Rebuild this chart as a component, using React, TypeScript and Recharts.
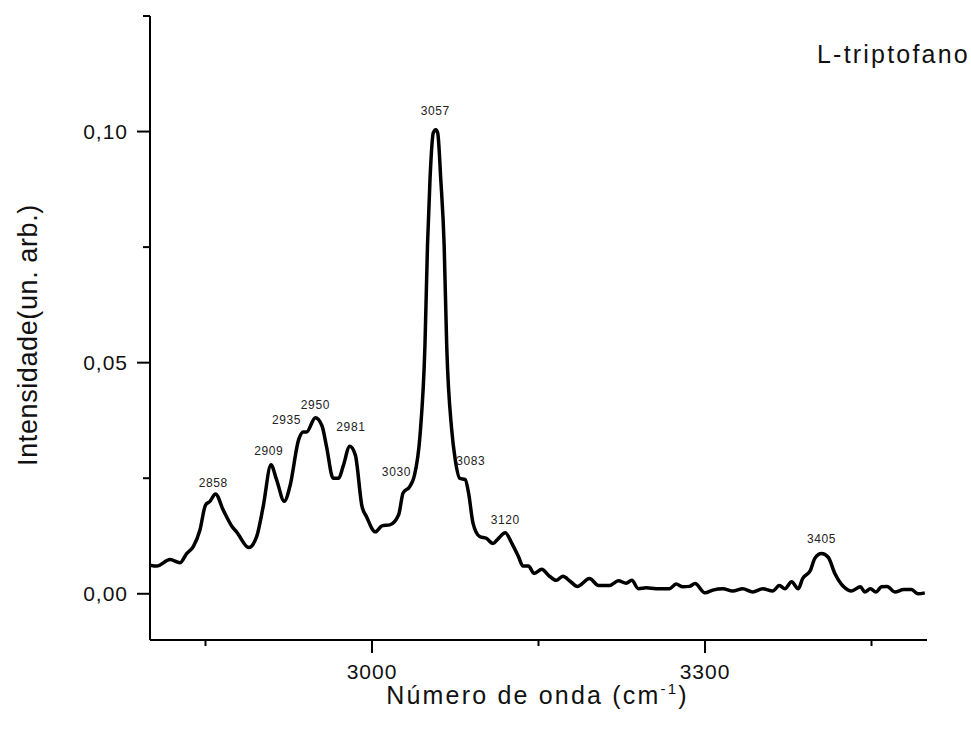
import { LineChart, Line, XAxis, YAxis, ReferenceDot, Label } from "recharts";

// espectro Raman do L-triptofano
const wavenumbers = [
  2800, 2806, 2818, 2827, 2833, 2839, 2845, 2850, 2854, 2859, 2866, 2874, 2878, 2889, 2896, 2902,
  2909, 2914, 2921, 2926, 2934, 2938, 2941, 2949, 2955, 2959, 2965, 2970, 2974, 2980, 2985, 2991,
  2995, 3003, 3009, 3016, 3024, 3028, 3034, 3038, 3043.2, 3047.7, 3050, 3052.3, 3055.2, 3057.4,
  3059.2, 3061.9, 3065, 3067.3, 3071.8, 3075, 3079, 3084, 3087, 3091, 3097, 3103, 3109, 3114, 3120,
  3126, 3132, 3136, 3141, 3146, 3153, 3159, 3166, 3172, 3179, 3185, 3196, 3204, 3214, 3222, 3229,
  3234, 3240, 3247, 3256, 3268, 3274, 3280, 3286, 3291, 3300, 3307, 3316, 3325, 3334, 3343, 3352,
  3361, 3367, 3372, 3378, 3384, 3388, 3395, 3399, 3405, 3411, 3417, 3425, 3432, 3440, 3444, 3449,
  3454, 3459, 3464, 3471, 3479, 3486, 3492, 3498,
];
const intensities = [
  0.0062, 0.006, 0.0074, 0.0067, 0.0087, 0.0102, 0.0138, 0.0192, 0.02, 0.0216, 0.0181, 0.0145, 0.0134, 0.01, 0.0123, 0.0189,
  0.0279, 0.0247, 0.02, 0.0232, 0.0334, 0.035, 0.035, 0.0381, 0.0363, 0.0319, 0.025, 0.025, 0.0276, 0.0319, 0.03, 0.0189,
  0.0167, 0.0134, 0.0147, 0.0149, 0.0171, 0.0218, 0.0232, 0.0254, 0.0341, 0.0537, 0.0754, 0.0899, 0.0997, 0.1004,
  0.0997, 0.0899, 0.0754, 0.0537, 0.0355, 0.029, 0.025, 0.0247, 0.0218, 0.0153, 0.0124, 0.012, 0.0109, 0.012, 0.0132,
  0.0109, 0.008, 0.006, 0.006, 0.0044, 0.0053, 0.004, 0.0029, 0.0038, 0.0026, 0.0016, 0.0033, 0.0018, 0.0018, 0.0028, 0.0023,
  0.0029, 0.0011, 0.0013, 0.0011, 0.0011, 0.0021, 0.0015, 0.0016, 0.0022, 0.0002, 0.0008, 0.0011, 0.0006, 0.0011, 0.0004, 0.0011,
  0.0006, 0.0018, 0.0011, 0.0026, 0.0011, 0.0033, 0.0051, 0.0077, 0.0087, 0.0079, 0.0044, 0.0015, 0.0006, 0.0015, 0.0004, 0.0011,
  0.0004, 0.0015, 0.0016, 0.0004, 0.0009, 0.0009, 0, 0.0002,
];

const xTicks = [2850, 3000, 3150, 3300, 3450];
const xMajor = [3000, 3300];
const yTicks = [0, 0.025, 0.05, 0.075, 0.1, 0.125];
const yMajor = [0, 0.05, 0.1];

// rótulos dos picos e onde o texto fica (em unidades dos eixos)
const peakLabels = ["2858", "2909", "2935", "2950", "2981", "3030", "3057", "3083", "3120", "3405"];
const peakLabelX = [2857, 2907, 2923, 2949, 2981, 3022, 3057, 3089, 3120, 3405];
const peakLabelY = [0.024, 0.031, 0.0376, 0.0408, 0.0361, 0.0265, 0.1046, 0.0287, 0.0161, 0.0118];

const data = wavenumbers.map((w, i) => ({ w, v: intensities[i] }));

const FONT = "'Liberation Sans', Arial, sans-serif";

function XTick({ x, y, payload }: any) {
  const major = xMajor.includes(payload.value);
  return (
    <g>
      <line x1={x} x2={x} y1={y} y2={y + (major ? 13 : 6)} stroke="#000" strokeWidth={2} />
      {major && (
        <text x={x} y={y + 39} textAnchor="middle" fontSize={21} letterSpacing={1} fill="#111" fontFamily={FONT}>
          {payload.value}
        </text>
      )}
    </g>
  );
}

function YTick({ x, y, payload }: any) {
  const major = yMajor.includes(payload.value);
  return (
    <g>
      <line x1={x - (major ? 13 : 7)} x2={x} y1={y} y2={y} stroke="#000" strokeWidth={2} />
      {major && (
        <text x={x - 22} y={y + 7} textAnchor="end" fontSize={21} letterSpacing={1} fill="#111" fontFamily={FONT}>
          {payload.value.toFixed(2).replace(".", ",")}
        </text>
      )}
    </g>
  );
}

export default function App() {
  return (
    <div style={{ position: "absolute", left: 0, top: 0, width: 971, height: 740, background: "#fff" }}>
      <LineChart width={971} height={740} data={data} margin={{ top: 16, right: 44, bottom: 0, left: 0 }}>
        <XAxis
          dataKey="w"
          type="number"
          domain={[2800, 3500]}
          ticks={xTicks}
          tick={<XTick />}
          tickSize={0}
          tickMargin={0}
          tickLine={false}
          axisLine={{ stroke: "#000", strokeWidth: 2 }}
          height={100}
          allowDataOverflow
        >
          <Label
            content={({ viewBox }: any) => (
              <text
                x={viewBox.x + viewBox.width / 2 - 1}
                y={viewBox.y + 64}
                textAnchor="middle"
                fontSize={25}
                letterSpacing={2.2}
                fill="#111"
                fontFamily={FONT}
              >
                Número de onda (cm
                <tspan dy={-10} fontSize={15}>-1</tspan>
                <tspan dy={10}>)</tspan>
              </text>
            )}
          />
        </XAxis>
        <YAxis
          type="number"
          domain={[-0.01, 0.125]}
          ticks={yTicks}
          tick={<YTick />}
          tickSize={0}
          tickMargin={0}
          tickLine={false}
          axisLine={{ stroke: "#000", strokeWidth: 2 }}
          width={150}
          allowDataOverflow
        >
          <Label
            content={() => (
              <text
                x={37}
                y={335}
                transform="rotate(-90 37 335)"
                textAnchor="middle"
                fontSize={27}
                letterSpacing={0.6}
                fill="#111"
                fontFamily={FONT}
              >
                Intensidade(un. arb.)
              </text>
            )}
          />
        </YAxis>
        <Line
          type="monotone"
          dataKey="v"
          stroke="#000"
          strokeWidth={3.5}
          dot={false}
          isAnimationActive={false}
        />
        {peakLabels.map((p, i) => (
          <ReferenceDot
            key={p}
            x={peakLabelX[i]}
            y={peakLabelY[i]}
            r={0}
            fill="none"
            stroke="none"
            label={{ value: p, position: "center", fontSize: 12, letterSpacing: 0.6, fill: "#222", fontFamily: FONT }}
          />
        ))}
      </LineChart>
      <div
        style={{
          position: "absolute",
          left: 817,
          top: 40,
          fontFamily: FONT,
          fontSize: 25,
          letterSpacing: 2.2,
          color: "#111",
          whiteSpace: "nowrap",
        }}
      >
        L-triptofano
      </div>
    </div>
  );
}
